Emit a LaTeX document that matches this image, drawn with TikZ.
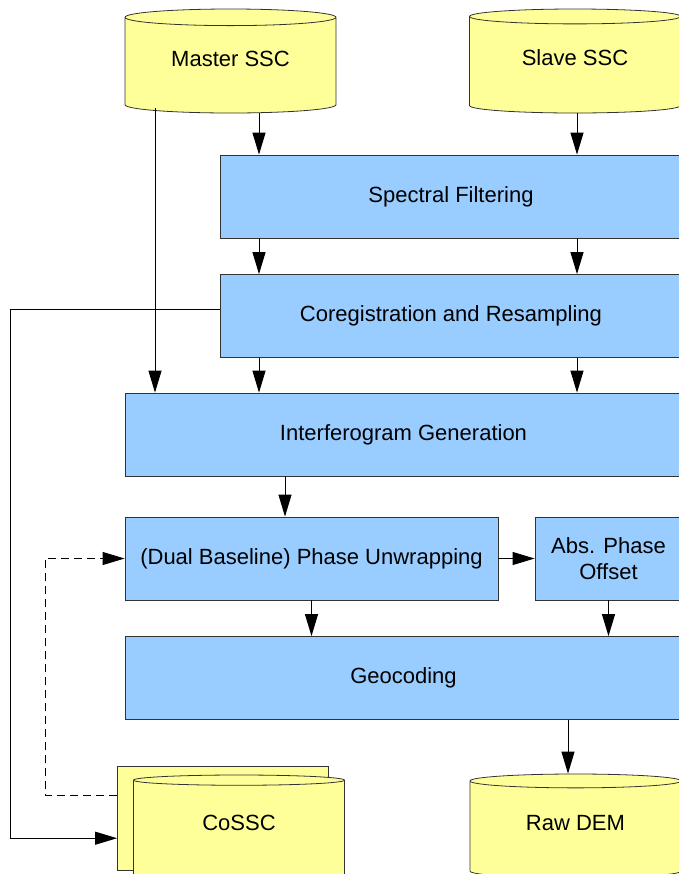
\documentclass[tikz,border=0pt]{standalone}
\usepackage{fontspec}
\setmainfont{Liberation Sans}
\usepackage{tikz}
\usetikzlibrary{shapes.geometric, arrows.meta}
\definecolor{storeYellow}{HTML}{FFFF99}
\definecolor{moduleBlue}{HTML}{99CCFF}
\tikzstyle{store} = [cylinder, shape border rotate=90, aspect=0.14, draw=black!80, fill=storeYellow, minimum width=105.5pt, minimum height=52pt, inner sep=0pt, text depth=7pt, anchor=shape center, text centered, font=\fontsize{11}{13}\selectfont]
\tikzstyle{module} = [rectangle, draw=black!80, fill=moduleBlue, minimum height=41.5pt, inner sep=0pt, align=center, font=\fontsize{11}{13}\selectfont]
\tikzstyle{arrow} = [-{Triangle[length=11pt,width=6.5pt]}, line width=0.5pt]

\begin{document}
\begin{tikzpicture}[x=0.5pt, y=-0.5pt]
        \useasboundingbox (0,0) rectangle (679,874);
        \node[store] (master) at (230.5,61) {Master SSC};
        \node[store] (slave) at (575,61) {Slave SSC};
        \node[module, minimum width=231pt] (spectral) at (451,196.5) {Spectral Filtering};
        \node[module, minimum width=231pt] (coreg) at (451,316) {Coregistration and Resampling};
        \node[module, minimum width=278.5pt] (interf) at (403.5,434.5) {Interferogram Generation};
        \node[module, minimum width=186.5pt] (unwrap) at (311.5,558.5) {(Dual Baseline) Phase Unwrapping};
        \node[module, minimum width=73.5pt] (absOffset) at (608.5,558.5) {Abs. Phase\\Offset};
        \node[module, minimum width=278.5pt] (geo) at (403.5,678) {Geocoding};
        \node[store] (cosscBack) at (223,818) {};
        \node[store] (cossc) at (239,827) {CoSSC};
        \node[store] (rawDem) at (575.5,826) {Raw DEM};

        \coordinate (colM) at (155,0);
        \coordinate (colA) at (259,0);
        \coordinate (colB) at (577,0);
        \coordinate (colI) at (285,0);
        \coordinate (colD) at (568,0);
        \coordinate (leftLoop) at (10,0);
        \coordinate (dashLoop) at (45,0);
        \coordinate (cosscIn) at ([yshift=-10pt]cosscBack.west);
        \coordinate (cosscOut) at ([yshift=11.5pt]cosscBack.west);

        \draw[arrow] (master.south -| colA) -- (colA |- spectral.north);
        \draw[arrow] (slave.south -| colB) -- (colB |- spectral.north);
        \draw[arrow] (colA |- spectral.south) -- (colA |- coreg.north);
        \draw[arrow] (colB |- spectral.south) -- (colB |- coreg.north);
        \draw[arrow] (colA |- coreg.south) -- (colA |- interf.north);
        \draw[arrow] (colB |- coreg.south) -- (colB |- interf.north);
        \draw[arrow] ([yshift=2.5pt]master.south -| colM) -- (colM |- interf.north);
        \draw[arrow] ([yshift=3.5pt]coreg.west) -| (cosscIn -| leftLoop) -- (cosscIn);
        \draw[arrow] (colI |- interf.south) -- (colI |- unwrap.north);
        \draw[arrow] (unwrap) -- (absOffset);
        \draw[arrow] (unwrap.south) -- (unwrap.south |- geo.north);
        \draw[arrow] (absOffset.south) -- (absOffset.south |- geo.north);
        \draw[arrow] (colD |- geo.south) -- (colD |- rawDem.north);
        \draw[arrow, dash pattern=on 4pt off 2.5pt] (cosscOut) -| (dashLoop |- unwrap.west) -- (unwrap.west);
    \end{tikzpicture}
\end{document}
